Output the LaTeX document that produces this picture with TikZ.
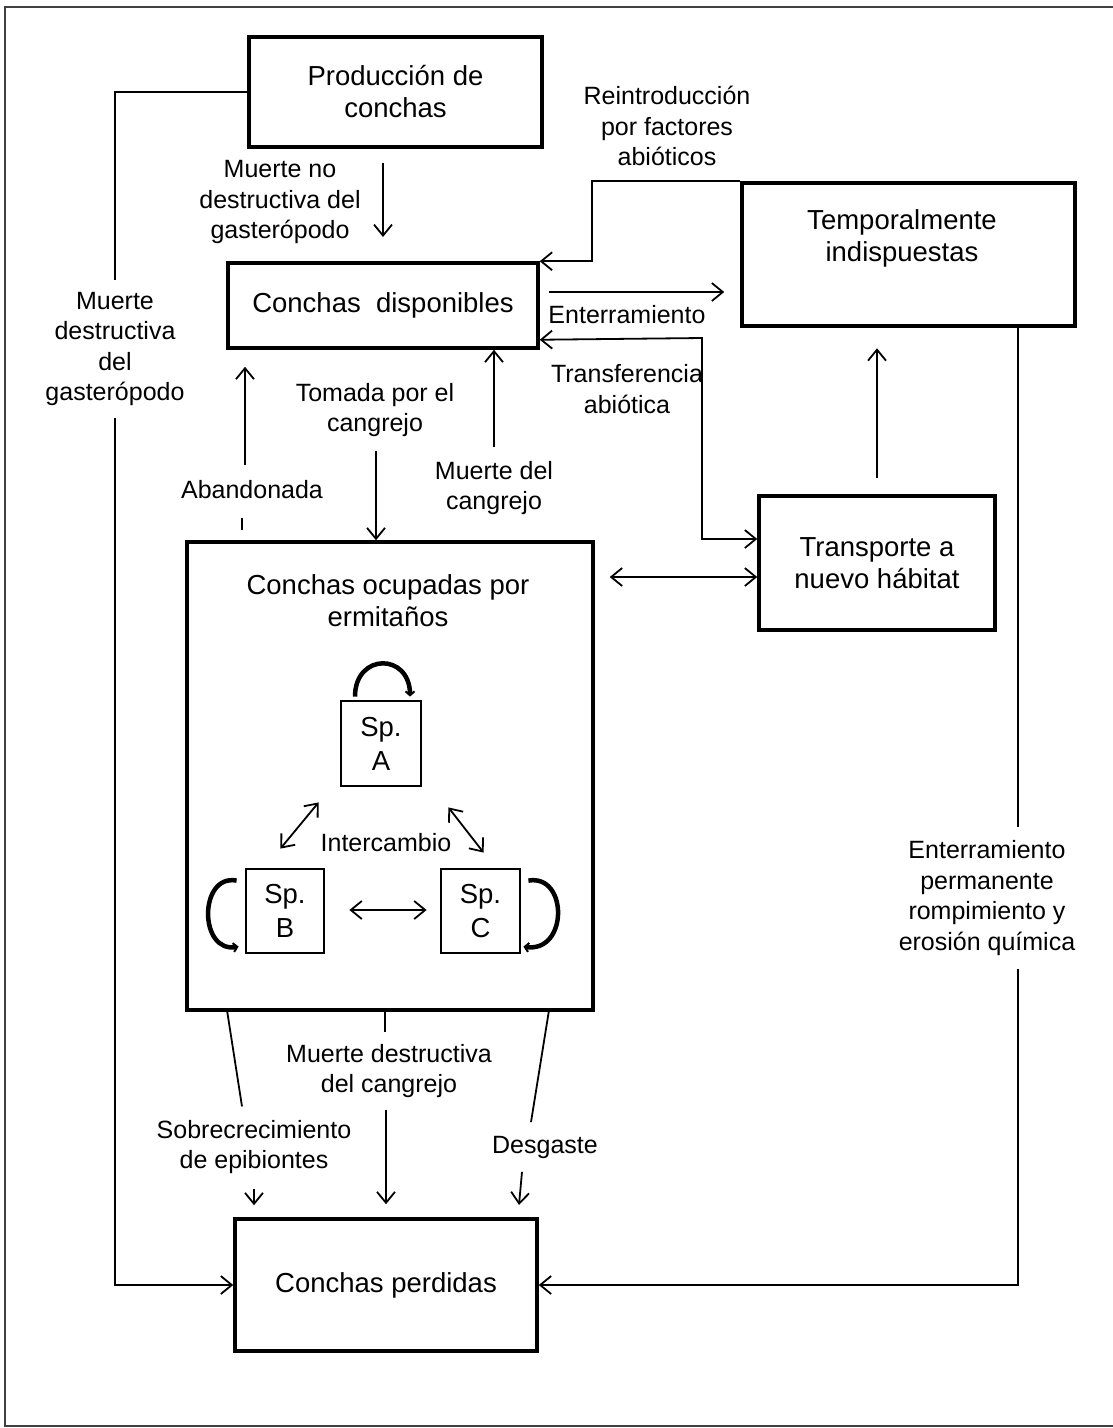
\documentclass[tikz,border=0pt]{standalone}
\usepackage{fontspec}
\setmainfont{Liberation Sans}
\usetikzlibrary{arrows.meta,calc}
\newcommand\boxfont{\fontsize{27.5}{32}\selectfont}
\newcommand\spfont{\fontsize{27.5}{34}\selectfont}
\newcommand\lblfont{\fontsize{25}{30.5}\selectfont}
\begin{document}
\begin{tikzpicture}[x=1pt,y=-1pt,
  box/.style={draw, line width=3.5pt, inner sep=0pt, align=center, font=\boxfont},
  spbox/.style={draw, line width=2.8pt, inner sep=0pt, align=center, font=\spfont, minimum width=78pt, minimum height=84pt},
  lbl/.style={align=center, inner sep=2pt, font=\lblfont},
  conn/.style={line width=1.8pt},
  arr/.style={conn, -{Straight Barb[length=11pt,width=18pt]}},
  darr/.style={conn, {Straight Barb[length=11pt,width=18pt]}-{Straight Barb[length=11pt,width=18pt]}},
  loopy/.style={line width=4.5pt, -{Straight Barb[length=4pt,width=9pt,line width=2pt]}},
]
\useasboundingbox (0,0) rectangle (1113,1428);
\fill[white] (0,0) rectangle (1113,1428);
\draw[line width=2pt, black!75] (1125,7) -- (5,7) -- (5,1426) -- (1125,1426);

% boxes
\node[box, minimum width=293pt, minimum height=110pt] (prod) at (395.5,92) {Producción de\\conchas};
\node[box, minimum width=310pt, minimum height=85pt] (disp) at (383,305.5) {Conchas~ disponibles};
\node[box, minimum width=333pt, minimum height=143pt] (temp) at (908.5,254.5) {};
\node[font=\boxfont, align=center] (temptext) at (902,238) {Temporalmente\\indispuestas};
\node[box, minimum width=236pt, minimum height=134pt] (tra) at (877,563) {Transporte a\\nuevo hábitat};
\node[box, minimum width=406pt, minimum height=468pt] (ocup) at (390,776) {};
\node[font=\boxfont, align=center] (ocuptext) at (388,601) {Conchas ocupadas por\\ermitaños};
\node[box, minimum width=302pt, minimum height=132pt] (perd) at (386,1285) {Conchas perdidas};
\node[spbox, minimum width=80pt, minimum height=85pt] (spa) at (381,743.5) {Sp.\\A};
\node[spbox] (spb) at (285,911) {Sp.\\B};
\node[spbox, minimum width=79pt] (spc) at (480.5,911) {Sp.\\C};

% labels
\node[lbl] (lmndg) at (280,202) {Muerte no\\destructiva del\\gasterópodo};
\node[lbl] (lmdg) at (115,349) {Muerte\\destructiva\\del\\gasterópodo};
\node[lbl] (lre) at (667,126) {Reintroducción\\por factores\\abióticos};
\node[lbl] (lent) at (627,315) {Enterramiento};
\node[lbl] (ltra) at (627,389) {Transferencia\\abiótica};
\node[lbl] (ltom) at (375,410) {Tomada por el\\cangrejo};
\node[lbl] (lmc) at (494,488) {Muerte del\\cangrejo};
\node[lbl] (lab) at (252,490) {Abandonada};
\node[lbl] (lint) at (386,843) {Intercambio};
\node[lbl] (lep) at (987,898) {Enterramiento\\permanente\\rompimiento y\\erosión química};
\node[lbl] (lsob) at (254,1147) {Sobrecrecimiento\\de epibiontes};
\node[lbl] (lmdc) at (389,1071) {Muerte destructiva\\del cangrejo};
\node[lbl] (ldes) at (545,1147) {Desgaste};

% connectors
\draw[conn] (prod.west) -| ($(lmdg.north)+(0,-10)$);
\draw[arr] ($(lmdg.south)+(0,10)$) |- (perd.west);

\coordinate (mn1) at (383,163);
\coordinate (mn2) at (383,237);
\draw[arr] (mn1) -- (mn2);

\draw[arr] (temp.north west) -- ++(-148,0) |- (disp.north east);
\draw[arr] ($(disp.east)+(9,-13.5)$) -- ($(temp.west)+(-16,37.5)$);
\draw[darr] ($(disp.south east)+(0,-10)$) -- (702,338) |- ($(tra.west)+(0,-24)$);
\draw[darr] ($(ocup.east |- tra.west)+(15,14)$) -- ($(tra.west)+(0,14)$);
\draw[arr] ($(tra.north)+(0,-16)$) -- ($(tra.north)+(0,-146)$);

\coordinate (r1) at ($(temp.south east)+(-59,0)$);
\draw[conn] (r1) -- ($(lep.north -| r1)+(0,-11)$);
\draw[arr] ($(lep.south -| r1)+(0,11)$) |- (perd.east);

\coordinate (ab1) at ($(lab.north)+(-7,-14)$);
\draw[arr] (ab1) -- ($(ab1 |- disp.south)+(0,17)$);
\draw[conn] ($(lab.south)+(-10,16.5)$) -- ($(lab.south)+(-10,28.5)$);

\coordinate (t1) at ($(ltom.south)+(1,11.5)$);
\draw[arr] (t1) -- (t1 |- ocup.north);
\coordinate (m1) at ($(lmc.north)+(0,-11.5)$);
\draw[arr] (m1) -- (m1 |- disp.south);

\draw[conn] ($(ocup.south west)+(42,0)$) -- ($(lsob.north)+(-12,-11.5)$);
\coordinate (s1) at ($(lsob.south)+(0,12.5)$);
\draw[arr] (s1) -- ($(s1 |- perd.north)+(0,-12)$);
\draw[conn] ($(ocup.south)+(-5,0)$) -- ++(0,20);
\coordinate (md1) at ($(lmdc.south)+(-3,9.5)$);
\draw[arr] (md1) -- ($(md1 |- perd.north)+(0,-13)$);
\draw[conn] ($(ocup.south east)+(-46,0)$) -- ($(ldes.north)+(-14,-11.5)$);
\draw[arr] ($(ldes.south)+(-23,11.5)$) -- ($(ldes.south)+(-26,44.5)$);

% species loops and exchanges
\draw[loopy] ($(spa.north)+(-26,-3)$) .. controls ($(spa.north)+(-26,-47)$) and ($(spa.north)+(29,-47)$) .. ($(spa.north)+(29,-3)$);
\draw[loopy] ($(spb.north west)+(-8,13)$) .. controls ($(spb.north west)+(-46,6)$) and ($(spb.north west)+(-46,86)$) .. ($(spb.north west)+(-6,79)$);
\draw[loopy] ($(spc.north east)+(7,13)$) .. controls ($(spc.north east)+(47,6)$) and ($(spc.north east)+(47,86)$) .. ($(spc.north east)+(2,79)$);

\draw[darr] ($(spa.south west)+(-21,15)$) -- ($(spb.north east)+(-45,-19)$);
\draw[darr] ($(spa.south east)+(26,20)$) -- ($(spc.north west)+(44,-15)$);
\draw[darr] ($(spb.east)+(24,-1)$) -- ($(spc.west)+(-13,-1)$);
\end{tikzpicture}
\end{document}
